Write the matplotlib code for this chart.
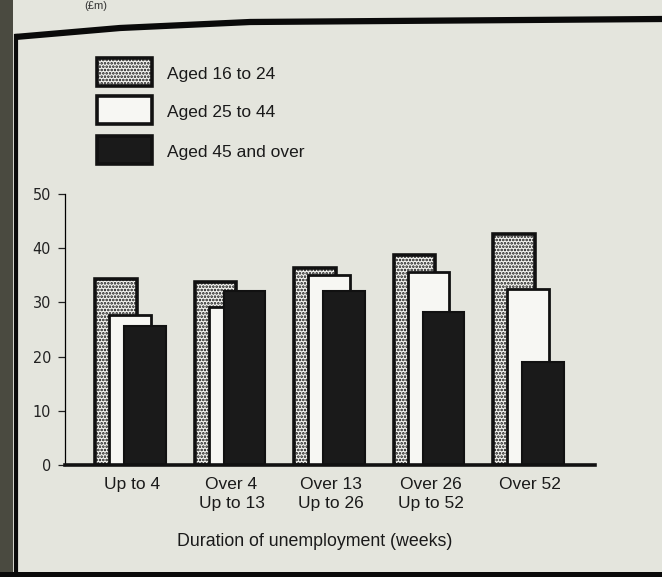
import matplotlib
matplotlib.use("Agg")
import matplotlib.pyplot as plt
from matplotlib.patches import Rectangle
from matplotlib.lines import Line2D
import numpy as np

plt.rcParams['hatch.linewidth'] = 1.25
plt.rcParams['hatch.color'] = '#111111'

categories = ["Up to 4", "Over 4\nUp to 13", "Over 13\nUp to 26", "Over 26\nUp to 52", "Over 52"]
series_names = ["Aged 16 to 24", "Aged 25 to 44", "Aged 45 and over"]
aged_16_24 = [34.4, 33.8, 36.4, 38.7, 42.7]
aged_25_44 = [27.6, 29.2, 35.1, 35.6, 32.4]
aged_45_over = [25.6, 32.1, 32.1, 28.2, 19.0]
yticks = [0, 10, 20, 30, 40, 50]

BG = '#e4e5dd'
W, H = 662, 577
fig = plt.figure(figsize=(W / 100, H / 100), dpi=100, facecolor=BG)

def fx(px):
    return px / W

def fy(py):
    return 1 - py / H

ax = fig.add_axes([fx(65), fy(465), fx(595) - fx(65), fy(194) - fy(465)])
ax.set_facecolor(BG)

x = np.arange(len(categories))
width = 0.42
styles = [
    dict(facecolor='#f4f4f0', edgecolor='#111111', hatch='.....', linewidth=2.6, offset=-0.14),
    dict(facecolor='#f7f7f3', edgecolor='#111111', hatch=None, linewidth=2.0, offset=0.0),
    dict(facecolor='#1a1a1a', edgecolor='#111111', hatch=None, linewidth=1.5, offset=0.15),
]
data = [aged_16_24, aged_25_44, aged_45_over]
for vals, st, z in zip(data, styles, [2, 3, 4]):
    ax.bar(x + st['offset'], vals, width=width, facecolor=st['facecolor'],
           edgecolor=st['edgecolor'], hatch=st['hatch'], linewidth=st['linewidth'],
           zorder=z, joinstyle='miter')

ax.set_xlim(-0.653, 4.673)
ax.set_ylim(0, 50)
ax.set_yticks(yticks)
ax.set_yticklabels([str(t) for t in yticks], family='DejaVu Sans', stretch='condensed',
                   fontsize=11.5, color='#222222')
ax.tick_params(axis='y', direction='out', length=5, width=0.9, pad=5, color='#222222')
ax.set_xticks([])
for s in ['top', 'right']:
    ax.spines[s].set_visible(False)
ax.spines['left'].set_linewidth(0.9)
ax.spines['bottom'].set_linewidth(2.6)
ax.spines['bottom'].set_color('#111111')
ax.spines['bottom'].set_zorder(6)

trans = ax.get_xaxis_transform()
for xi, lab in zip(x, categories):
    ax.text(xi + 0.02, -0.045, lab, transform=trans, ha='center', va='top',
            fontsize=12.5, family='Liberation Sans', color='#1a1a1a',
            linespacing=1.35, clip_on=False)

fig.text(fx(315), fy(542), "Duration of unemployment (weeks)", ha='center', va='center',
         fontsize=12.8, family='Liberation Sans', color='#1a1a1a')

# legend
leg_tops = [58, 96, 136]
for name, st, top in zip(series_names, styles, leg_tops):
    r = Rectangle((fx(97), fy(top + 28)), fx(152) - fx(97), fy(top) - fy(top + 28),
                  transform=fig.transFigure, facecolor=st['facecolor'], edgecolor='#111111',
                  hatch=st['hatch'], linewidth=2.6)
    fig.patches.append(r)
    fig.text(fx(167), fy(top + 17), name, ha='left', va='center', fontsize=12.5,
             family='Liberation Sans', color='#1a1a1a')

# scan frame decorations
fig.patches.append(Rectangle((0, 0), fx(13), 1, transform=fig.transFigure,
                             facecolor='#4a4a40', edgecolor='none'))
fig.lines.append(Line2D([fx(16), fx(16)], [fy(36), 0], transform=fig.transFigure,
                        color='#0a0a0a', linewidth=3))
fig.lines.append(Line2D([fx(15), fx(120), fx(250), fx(662)], [fy(37), fy(28), fy(22), fy(19)],
                        transform=fig.transFigure, color='#0a0a0a', linewidth=4.5,
                        solid_capstyle='butt'))
fig.patches.append(Rectangle((0, 0), 1, fy(572), transform=fig.transFigure,
                             facecolor='#0a0a0a', edgecolor='none'))
fig.text(fx(84), fy(1), "(£m)", ha='left', va='top', fontsize=8,
         family='Liberation Sans', color='#333333')

fig.savefig("out.png", dpi=100, facecolor=BG)
